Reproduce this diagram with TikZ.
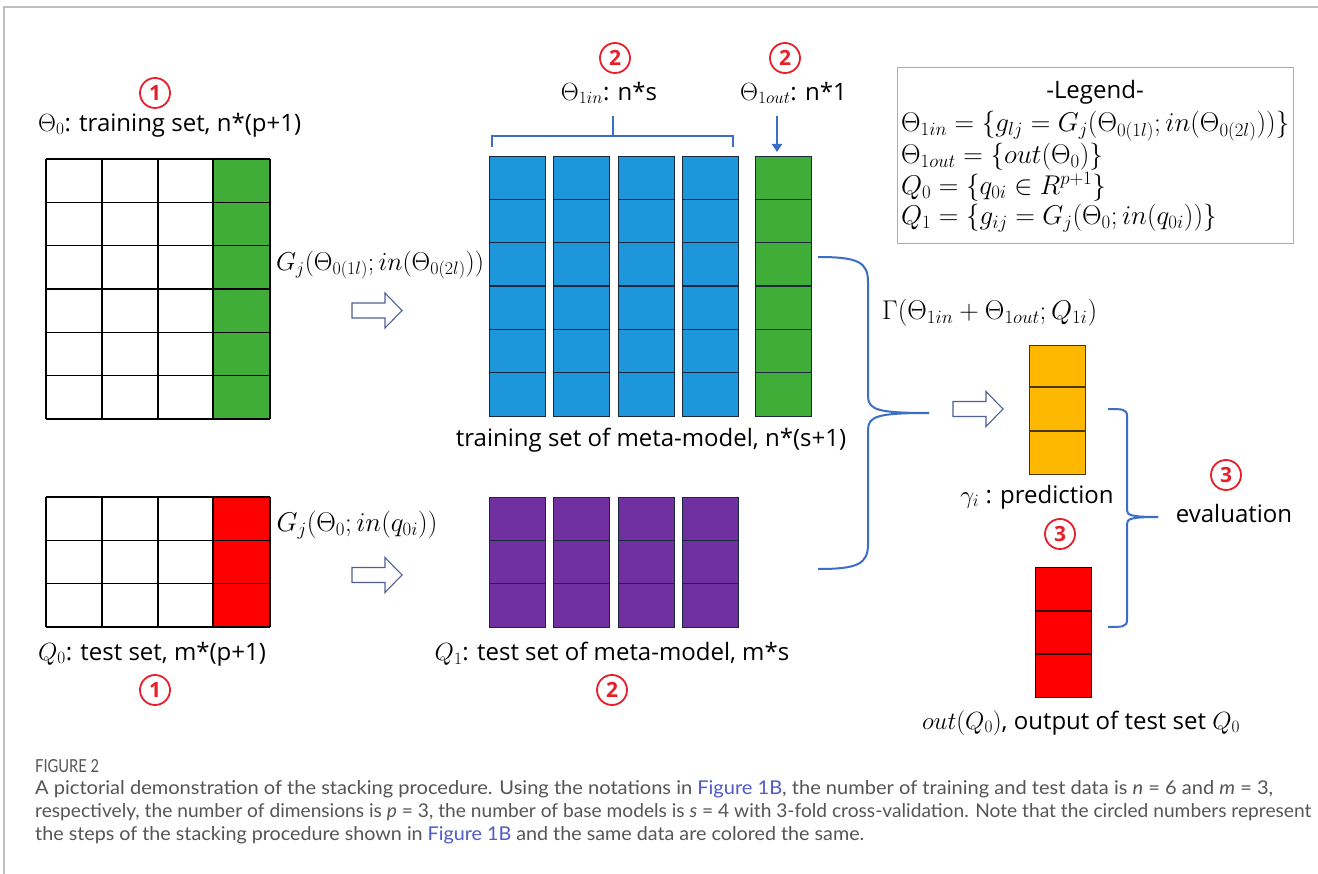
\documentclass[tikz,border=0pt]{standalone}
\usepackage{graphicx}
\usepackage{fontspec}
\setmainfont{Open Sans}
\newfontfamily\capfont{Lato}
\usetikzlibrary{arrows.meta}
\definecolor{cgreen}{RGB}{64,173,56}
\definecolor{cblue}{RGB}{30,150,220}
\definecolor{cpurple}{RGB}{112,48,160}
\definecolor{corange}{RGB}{255,184,0}
\definecolor{cred}{RGB}{255,0,0}
\definecolor{cnum}{RGB}{232,30,40}
\definecolor{cbrace}{RGB}{60,110,200}
\definecolor{carrow}{RGB}{80,96,150}
\definecolor{clegend}{RGB}{170,172,190}
\definecolor{cframe}{RGB}{190,190,190}
\definecolor{ccap}{RGB}{85,85,85}
\definecolor{clink}{RGB}{80,90,200}
\definecolor{cdark}{RGB}{25,40,60}
\newcommand{\mbig}[1]{\scalebox{1.09}{#1}}
\tikzset{
  lbl/.style={font=\fontsize{24}{28}\selectfont, inner sep=0pt},
  circnum/.style={circle, draw=cnum, line width=1.8pt, text=cnum,
    font=\fontsize{21}{21}\selectfont\bfseries, inner sep=0pt, minimum size=30pt},
  gridl/.style={draw=black, line width=1.3pt},
  colbox/.style={draw=cdark, line width=1.4pt, minimum width=56pt, anchor=north west, inner sep=0pt},
  rowl/.style={draw=cdark, line width=1.4pt},
  bluebr/.style={draw=cbrace, line width=2pt},
  hollow/.style={draw=carrow, fill=white, line width=1.1pt, line join=miter},
  capl/.style={anchor=base west, inner sep=0pt, text=ccap},
  framel/.style={draw=cframe, line width=1.5pt}
}
\newcommand{\hollowarrow}[1]{%
  \draw[hollow] (#1) ++(0,-7.5) -- ++(33,0) -- ++(0,-10) -- ++(17,17.5)
     -- ++(-17,17.5) -- ++(0,-10) -- ++(-33,0) -- cycle;}
\begin{document}
\begin{tikzpicture}[x=1pt,y=-1pt]
\useasboundingbox (0,0) rectangle (1318,874);
\fill[white] (0,0) rectangle (1318,874);
\draw[framel] (4,874) -- (4,7) -- (1318,7);

% ---------- training set grid ----------
\fill[cgreen] (213,159) rectangle (270,419);
\foreach \y in {159,202.33,245.67,289,332.33,375.67,419} \draw[gridl] (46,\y) -- (270,\y);
\foreach \x in {46,102,158,213,270} \draw[gridl] (\x,159) -- (\x,419);
\node[circnum] (c1a) at (155,93) {1};
\node[lbl, anchor=west] (t0) at (38,125) {$\Theta_0$: training set, n*(p+1)};

% ---------- test set grid ----------
\fill[cred] (213,497) rectangle (270,627);
\foreach \y in {497,540.33,583.67,627} \draw[gridl] (46,\y) -- (270,\y);
\foreach \x in {46,102,158,213,270} \draw[gridl] (\x,497) -- (\x,627);
\node[lbl] (q0) at (152,654) {$Q_0$: test set, m*(p+1)};
\node[circnum] (c1b) at (155,690) {1};

% ---------- transformation labels and arrows ----------
\node[lbl] (g1) at (380,265) {\scalebox{1.04}{$G_j\bigl(\Theta_{0(1l)}; in(\Theta_{0(2l)})\bigr)$}};
\coordinate (ha1) at (352,310.5);
\hollowarrow{ha1}
\node[lbl] (g2) at (357,525) {\mbig{$G_j(\Theta_0; in(q_{0i}))$}};
\coordinate (ha2) at (352,575);
\hollowarrow{ha2}

% ---------- meta training set ----------
\foreach \xa [count=\i] in {489,553,618,682} {
  \node[colbox, fill=cblue, minimum height=260pt] (b\i) at (\xa,156) {};
  \foreach \k in {1,...,5} \draw[rowl] (\xa,{156+\k*43.33}) -- ({\xa+56},{156+\k*43.33});
}
\node[colbox, fill=cgreen, minimum height=260pt] (bo) at (755,156) {};
\foreach \k in {1,...,5} \draw[rowl] (755,{156+\k*43.33}) -- (811,{156+\k*43.33});
\node[lbl] (mt) at (651,440) {training set of meta-model, n*(s+1)};

% brace over Theta_1in and arrow to Theta_1out
\node[circnum] (c2a) at (615,58) {2};
\node[lbl] (t1in) at (609,93) {$\Theta_{1in}$: n*s};
\node[circnum] (c2b) at (785,58) {2};
\node[lbl, anchor=west] (t1out) at (740,93) {$\Theta_{1out}$: n*1};
\coordinate (brl) at (492,147);
\coordinate (brr) at (733,147);
\coordinate (brm) at (613,136);
\coordinate (brs) at (613,116);
\draw[bluebr] (brl) -- (492,136) -- (733,136) -- (brr);
\draw[bluebr] (brs) -- (brm);
\coordinate (ars) at (777,116);
\coordinate (are) at (777,152);
\draw[bluebr, -{Triangle[width=10pt,length=8pt]}] (ars) -- (are);

% ---------- meta test set ----------
\foreach \xa [count=\i] in {489,553,618,682} {
  \node[colbox, fill=cpurple, minimum height=130pt] (p\i) at (\xa,497) {};
  \foreach \k in {1,2} \draw[rowl] (\xa,{497+\k*43.33}) -- ({\xa+56},{497+\k*43.33});
}
\node[lbl] (q1) at (612,654) {$Q_1$: test set of meta-model, m*s};
\node[circnum] (c2c) at (612,690) {2};

% ---------- big brace ----------
\coordinate (bt) at (818,257);
\coordinate (bb) at (818,569);
\coordinate (btip) at (929,413);
\draw[bluebr] (bt) .. controls (858,257) and (868,262) .. (868,282) -- (868,396)
   .. controls (868,410) and (878,413) .. (btip);
\draw[bluebr] (btip) .. controls (878,413) and (868,416) .. (868,430) -- (868,544)
   .. controls (868,564) and (858,569) .. (bb);
\node[lbl, anchor=west] (gam) at (882,313) {\mbig{$\Gamma(\Theta_{1in}+\Theta_{1out}; Q_{1i})$}};
\coordinate (ha3) at (953,409);
\hollowarrow{ha3}

% ---------- prediction column ----------
\node[draw=black!70!corange, line width=1.4pt, fill=corange, minimum width=56pt, minimum height=129pt, anchor=north west, inner sep=0pt] (pred) at (1029,345) {};
\foreach \y in {387,431} \draw[draw=black!70!corange, line width=1.4pt] (1029,\y) -- (1085,\y);
\node[lbl] (gl) at (1037,497) {$\gamma_i$ : prediction};
\node[circnum] (c3a) at (1060,534) {3};

% ---------- output column ----------
\node[draw=black!80!cred, line width=1.4pt, fill=cred, minimum width=56pt, minimum height=130pt, anchor=north west, inner sep=0pt] (outc) at (1035,567) {};
\foreach \y in {611,654} \draw[draw=black!80!cred, line width=1.4pt] (1035,\y) -- (1091,\y);
\node[lbl] (ol) at (1081,723) {$out(Q_0)$, output of test set $Q_0$};

% ---------- evaluation brace ----------
\coordinate (et) at (1108,409);
\coordinate (eb) at (1108,627);
\coordinate (etip) at (1158,517);
\draw[bluebr] (et) .. controls (1122,409) and (1127,409) .. (1127,416) -- (1127,510)
   .. controls (1127,515) and (1130,517) .. (etip);
\draw[bluebr] (etip) .. controls (1130,517) and (1127,519) .. (1127,524) -- (1127,620)
   .. controls (1127,627) and (1122,627) .. (eb);
\node[circnum] (c3b) at (1226,475) {3};
\node[lbl] (ev) at (1234,513) {evaluation};

% ---------- legend ----------
\node[draw=clegend, line width=1.2pt, minimum width=396pt, minimum height=176pt, anchor=north west, inner sep=0pt] (leg) at (897,67) {};
\node[lbl] (legt) at (1095,92) {-Legend-};
\node[lbl, anchor=west] (l1) at (901,126) {\mbig{$\Theta_{1in}=\{g_{lj}=G_j\bigl(\Theta_{0(1l)}; in(\Theta_{0(2l)})\bigr)\}$}};
\node[lbl, anchor=west] (l2) at (901,157) {\mbig{$\Theta_{1out}=\{out(\Theta_0)\}$}};
\node[lbl, anchor=west] (l3) at (901,187) {\mbig{$Q_0=\{q_{0i}\in R^{p+1}\}$}};
\node[lbl, anchor=west] (l4) at (901,218) {\mbig{$Q_1=\{g_{ij}=G_j(\Theta_0; in(q_{0i}))\}$}};

% ---------- caption ----------
\node[capl] (fig) at (35,772) {\resizebox{64pt}{13pt}{\capfont FIGURE 2}};
\node[capl] (cap1) at (35,794) {\resizebox{1238pt}{14pt}{\capfont A pictorial demonstration of the stacking procedure. Using the notations in \textcolor{clink}{Figure 1B}, the number of training and test data is \textit{n} = 6 and \textit{m} = 3,}};
\node[capl] (cap2) at (35,817) {\resizebox{1276pt}{14pt}{\capfont respectively, the number of dimensions is \textit{p} = 3, the number of base models is \textit{s} = 4 with 3-fold cross-validation. Note that the circled numbers represent}};
\node[capl] (cap3) at (35,840) {\resizebox{829pt}{14pt}{\capfont the steps of the stacking procedure shown in \textcolor{clink}{Figure 1B} and the same data are colored the same.}};
\end{tikzpicture}
\end{document}
